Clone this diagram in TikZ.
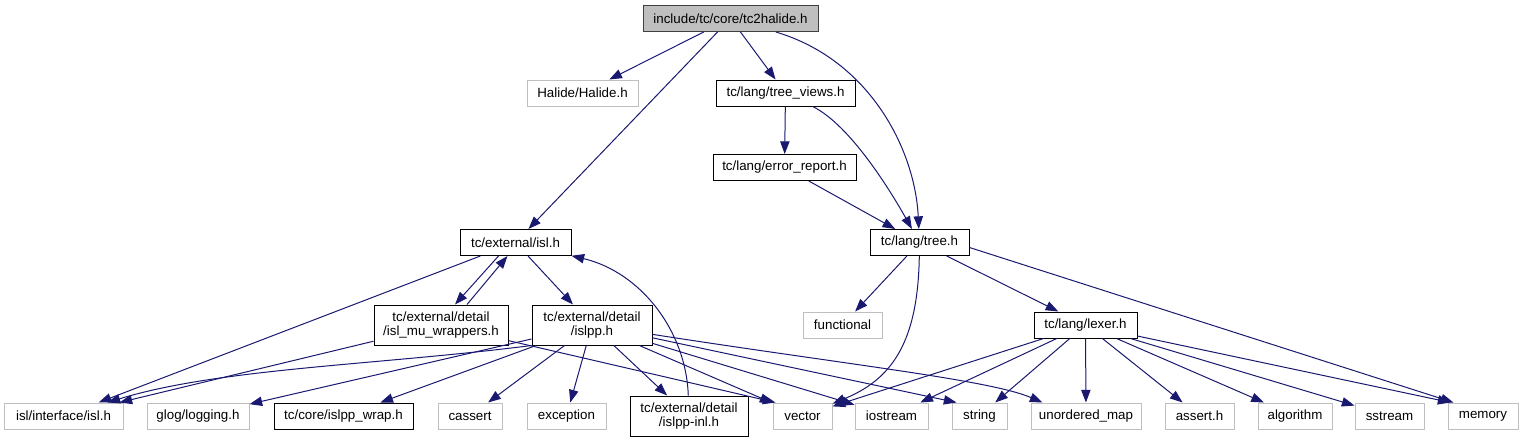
\documentclass[tikz,border=0pt]{standalone}
\usepackage{fontspec}
\setmainfont{Liberation Sans}
\usetikzlibrary{arrows.meta,calc}
\definecolor{edgeblue}{HTML}{191970}
\definecolor{sysgray}{HTML}{BFBFBF}
\tikzset{
  box/.style={draw, line width=0.75pt, inner sep=0pt, minimum height=19.5pt,
    font={\fontsize{10pt}{11pt}\selectfont}, align=center},
  filebox/.style={box, draw=black},
  sysbox/.style={box, draw=sysgray},
  rootbox/.style={box, draw=black!75, fill=sysgray},
  tall/.style={minimum height=30pt},
  wd/.style={minimum width=#1*0.75pt},
  incl/.style={draw=edgeblue, line width=0.75pt, -{Triangle[length=9.5pt,width=7pt]}},
}
\begin{document}
\begin{tikzpicture}[x=0.75pt, y=-0.75pt]
    \useasboundingbox (0,0) rectangle (1527,443);
    % top rows
    \node[rootbox, wd=175] (root) at (730.5,18.5) {include/tc/core/tc2halide.h};
    \node[sysbox, wd=111] (halide) at (582.5,93) {Halide/Halide.h};
    \node[filebox, wd=139] (treeviews) at (785.5,93) {tc/lang/tree\_views.h};
    \node[filebox, wd=143] (errreport) at (784.5,167.5) {tc/lang/error\_report.h};
    \node[filebox, wd=111] (islh) at (515.5,242.5) {tc/external/isl.h};
    \node[filebox, wd=99] (tree) at (919.5,242.5) {tc/lang/tree.h};
    % middle row
    \node[filebox, tall, wd=134] (muwrap) at (441,325) {tc/external/detail\\/isl\_mu\_wrappers.h};
    \node[filebox, tall, wd=120] (islpp) at (592,325) {tc/external/detail\\/islpp.h};
    \node[sysbox, wd=79] (functional) at (842.5,325) {functional};
    \node[filebox, wd=103] (lexer) at (1085.5,325) {tc/lang/lexer.h};
    % bottom row
    \node[sysbox, wd=119] (iface) at (63.5,416) {isl/interface/isl.h};
    \node[sysbox, wd=102] (glog) at (198,416) {glog/logging.h};
    \node[filebox, wd=139] (wrap) at (343.5,416) {tc/core/islpp\_wrap.h};
    \node[sysbox, wd=64] (cassert) at (470,416) {cassert};
    \node[sysbox, wd=79] (exception) at (566.5,416) {exception};
    \node[filebox, tall, wd=118] (inl) at (689,416) {tc/external/detail\\/islpp-inl.h};
    \node[sysbox, wd=59] (vector) at (802.5,416) {vector};
    \node[sysbox, wd=73] (iostream) at (891.5,416) {iostream};
    \node[sysbox, wd=55] (string) at (979.5,416) {string};
    \node[sysbox, wd=110] (umap) at (1086,416) {unordered\_map};
    \node[sysbox, wd=69] (asserth) at (1199.5,416) {assert.h};
    \node[sysbox, wd=74] (algorithm) at (1295,416) {algorithm};
    \node[sysbox, wd=69] (sstream) at (1389.5,416) {sstream};
    \node[sysbox, wd=70] (memory) at (1483,416) {memory};
    % includes of tc2halide.h
    \draw[incl] (root) -- (halide);
    \draw[incl] (root) -- (islh);
    \draw[incl] (root) -- (treeviews);
    \draw[incl] (root) .. controls (870,60) and (915,150) .. (tree);
    % lang headers
    \draw[incl] (treeviews) -- (errreport);
    \draw[incl] (treeviews) .. controls (850,125) and (890,190) .. (tree);
    \draw[incl] (errreport) -- (tree);
    % isl headers
    \draw[incl] ($(islh.south)+(-17,0)$) -- ($(muwrap.north)+(14,0)$);
    \draw[incl] ($(muwrap.north)+(26,0)$) -- ($(islh.south)+(-8,0)$);
    \draw[incl] (islh) -- (islpp);
    \draw[incl] (islh) -- (iface);
    \draw[incl] (inl) .. controls (686,330) and (640,272) .. (islh);
    \draw[incl] (muwrap) -- (iface);
    \draw[incl] (muwrap) -- ($(vector.north west)+(3,0)$);
    % includes of islpp.h
    \draw[incl] (islpp.south west) .. controls (380,365) and (220,368) .. (iface);
    \draw[incl] (islpp) -- (glog);
    \draw[incl] (islpp) -- (wrap);
    \draw[incl] (islpp) -- (cassert);
    \draw[incl] (islpp) -- (exception);
    \draw[incl] (islpp) -- (inl);
    \draw[incl] (islpp) -- (vector);
    \draw[incl] (islpp) -- (iostream);
    \draw[incl] (islpp) -- ($(string.north west)+(5,0)$);
    \draw[incl] (islpp) .. controls (850,365) and (990,380) .. ($(umap.north west)+(12,0)$);
    % includes of tree.h
    \draw[incl] (tree) -- (functional);
    \draw[incl] (tree) .. controls (918,345) and (890,380) .. (vector);
    \draw[incl] (tree) -- (lexer);
    \draw[incl] ($(tree.east)+(0,5)$) -- ($(memory.north west)+(6,0)$);
    % includes of lexer.h
    \draw[incl] (lexer) -- (vector);
    \draw[incl] (lexer) -- (iostream);
    \draw[incl] (lexer) -- (string);
    \draw[incl] (lexer) -- (umap);
    \draw[incl] (lexer) -- (asserth);
    \draw[incl] (lexer) -- (algorithm);
    \draw[incl] (lexer) -- (sstream);
    \draw[incl] (lexer) -- ($(memory.north west)+(3,0)$);
\end{tikzpicture}
\end{document}
